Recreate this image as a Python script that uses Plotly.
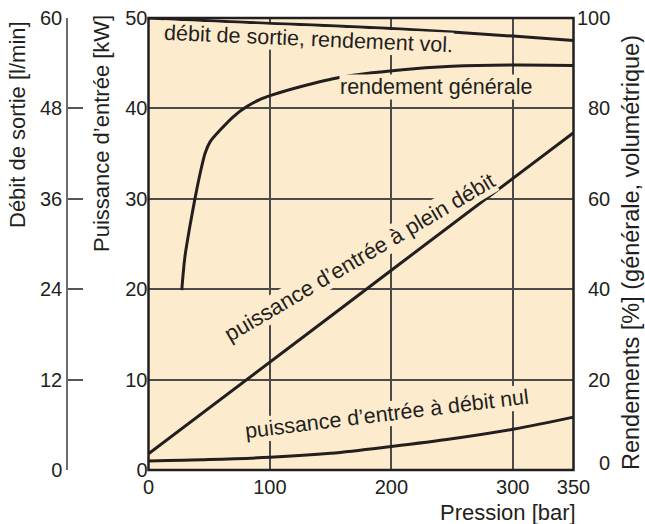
import plotly.graph_objects as go

# ---- data ----
pression = [0, 50, 100, 150, 200, 250, 300, 350]
p_plein_debit_kw = [1.8, 6.9, 11.9, 17.0, 22.1, 27.2, 32.2, 37.3]
p_debit_nul_kw = [1.0, 1.15, 1.4, 1.85, 2.6, 3.45, 4.5, 5.85]
rend_vol_pct = [100, 99.4, 98.8, 98.3, 97.7, 96.9, 96.0, 95.0]

pression_gen = [27.4, 30, 34, 38.3, 42.5, 46.6, 50.7, 59, 70, 81, 92, 102, 125, 158, 207, 250, 300, 350]
rend_gen_pct = [39.8, 47.2, 53.8, 60.1, 65.6, 70.1, 72.6, 75.2, 78.2, 80.4, 82.0, 83.0, 84.8, 86.9, 88.5, 89.3, 89.6, 89.5]

x_ticks = [0, 100, 200, 300, 350]
kw_ticks = [0, 10, 20, 30, 40, 50]
pct_ticks = [0, 20, 40, 60, 80, 100]
flow_ticks = [0, 12, 24, 36, 48, 60]

BG = "#FDEBCE"
INK = "#231f20"
FONT = "Liberation Sans, Arial, sans-serif"
W, H = 645, 524

fig = go.Figure()
line_style = dict(color=INK, width=3)
fig.add_trace(go.Scatter(x=pression, y=p_plein_debit_kw, mode="lines", line=line_style, yaxis="y", hoverinfo="skip"))
fig.add_trace(go.Scatter(x=pression, y=p_debit_nul_kw, mode="lines", line=dict(line_style, shape="spline"), yaxis="y", hoverinfo="skip"))
fig.add_trace(go.Scatter(x=pression, y=rend_vol_pct, mode="lines", line=dict(line_style, shape="spline"), yaxis="y2", hoverinfo="skip"))
fig.add_trace(go.Scatter(x=pression_gen, y=rend_gen_pct, mode="lines", line=dict(line_style, shape="spline", smoothing=0.8), yaxis="y2", hoverinfo="skip"))
fig.add_trace(go.Scatter(x=[None], y=[None], yaxis="y3", showlegend=False, hoverinfo="skip"))

tickfont = dict(family=FONT, size=20, color=INK)
grid = dict(showgrid=True, gridcolor="#4a4a4a", gridwidth=1.5)

fig.update_layout(
    width=W, height=H,
    margin=dict(l=0, r=0, t=18, b=54, autoexpand=False),
    paper_bgcolor="white", plot_bgcolor=BG,
    showlegend=False,
    font=dict(family=FONT, color=INK),
    xaxis=dict(domain=[148.5 / W, 573.5 / W], range=[0, 350], tickvals=x_ticks,
               tickfont=tickfont, zeroline=False, automargin=False,
               showline=False, ticks="", ticklabelstandoff=3, **grid),
    yaxis=dict(range=[0, 50], tickvals=kw_ticks, tickfont=tickfont, zeroline=False,
               automargin=False, showline=False, ticks="", **grid),
    yaxis2=dict(range=[0, 100], tickvals=pct_ticks, showticklabels=False, overlaying="y",
                side="right", anchor="x", showgrid=False, zeroline=False, ticks="",
                automargin=False),
    yaxis3=dict(range=[0, 60], tickvals=flow_ticks, tickfont=tickfont, overlaying="y",
                side="left", anchor="free", position=67 / W, showgrid=False, zeroline=False,
                showline=True, linecolor="#6d6d6d", linewidth=1.5, automargin=False,
                ticks="inside", ticklen=15, tickwidth=1.5, tickcolor="#555555"),
)

fig.add_shape(type="rect", xref="x domain", yref="y domain", x0=0, x1=1, y0=0, y1=1,
              line=dict(color=INK, width=2.5), layer="above")

# right-axis tick labels (right-aligned as in the reference)
for v in pct_ticks:
    fig.add_annotation(x=612 / W, y=v, xref="paper", yref="y2", text=str(v), showarrow=False,
                       xanchor="right", yanchor="middle", font=tickfont,
                       yshift=7 if v == 0 else 0)

lab = dict(family=FONT, size=21.5, color=INK)
fig.add_annotation(x=132, y=95.4, xref="x", yref="y2", text="débit de sortie, rendement vol.",
                   showarrow=False, textangle=2.5, font=lab, bgcolor=BG, borderpad=0)
fig.add_annotation(x=236.8, y=84.7, xref="x", yref="y2", text="rendement générale",
                   showarrow=False, font=lab, bgcolor=BG, borderpad=0)
fig.add_annotation(x=173.5, y=23.5, xref="x", yref="y", text="puissance d’entrée à plein débit",
                   showarrow=False, textangle=-30.5, font=dict(lab, size=22), bgcolor=BG, borderpad=0)
fig.add_annotation(x=196.4, y=6.2, xref="x", yref="y", text="puissance d’entrée à débit nul",
                   showarrow=False, textangle=-7, font=lab, bgcolor=BG, borderpad=0)

tf = dict(family=FONT, size=22, color=INK)
PH = 452.0
fig.add_annotation(x=18 / W, y=(470 - 125) / PH, xref="paper", yref="paper", text="Débit de sortie [l/min]",
                   showarrow=False, textangle=-90, font=tf, xanchor="center", yanchor="middle")
fig.add_annotation(x=101 / W, y=(470 - 134) / PH, xref="paper", yref="paper", text="Puissance d’entrée [kW]",
                   showarrow=False, textangle=-90, font=tf, xanchor="center", yanchor="middle")
fig.add_annotation(x=631 / W, y=(470 - 253) / PH, xref="paper", yref="paper",
                   text="Rendements [%] (générale, volumétrique)",
                   showarrow=False, textangle=-90, font=dict(tf, size=23.5), xanchor="center", yanchor="middle")
fig.add_annotation(x=578 / W, y=(470 - 512) / PH, xref="paper", yref="paper", text="Pression [bar]",
                   showarrow=False, font=tf, xanchor="right", yanchor="middle")

fig.write_html("out.html", config={"displayModeBar": False},
               post_script="document.body.style.margin='0px';document.body.style.padding='0px';")
